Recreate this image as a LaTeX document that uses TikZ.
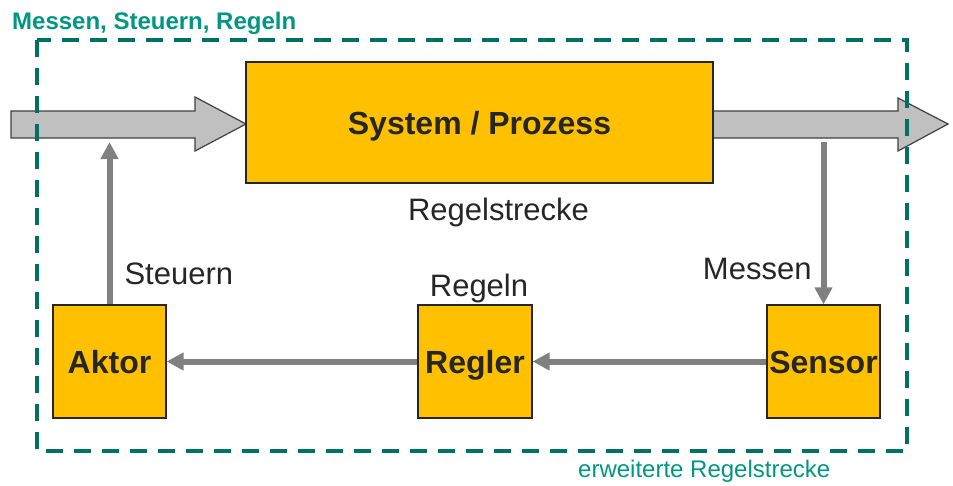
\documentclass[tikz,border=0pt]{standalone}
\usepackage{fontspec}
\setmainfont{Liberation Sans}
\usetikzlibrary{positioning}
\usetikzlibrary{arrows.meta}
\definecolor{boxorange}{RGB}{255,192,0}
\definecolor{framegreen}{RGB}{0,112,98}
\definecolor{titlegreen}{RGB}{0,150,130}
\definecolor{signalgray}{RGB}{128,128,128}
\definecolor{flowgray}{RGB}{192,192,192}

\begin{document}
\begin{tikzpicture}
    [
    x=1pt, y=-1pt,
    every node/.style={text=black!85},
    block/.style={draw=black!85,line width=1.2pt,fill=boxorange,inner sep=0pt,
      minimum width=113pt,minimum height=113pt,text height=23pt,text depth=0pt,
      font=\bfseries\fontsize{32}{36}\selectfont},
    lab/.style={inner sep=0pt,font=\fontsize{31}{36}\selectfont},
    flow/.style={draw=black!75,line width=1.2pt,fill=flowgray},
    signal/.style={draw=signalgray,line width=6pt,-{Triangle[length=17pt,width=17pt]}}
    ]
    \useasboundingbox (0,0) rectangle (953,485);

    \draw [flow] (11,111) -- (195,111) -- (195,97) -- (246,124) -- (195,151) -- (195,138) -- (11,138) -- cycle;
    \draw [flow] (713,111) -- (898,111) -- (898,98) -- (948,124) -- (898,151) -- (898,138) -- (713,138) -- cycle;

    \node (sys) at (479.5,122.5) [block, minimum width=467pt, minimum height=121pt] {System / Prozess};
    \node (akt) at (109.5,361.5) [block] {Aktor};
    \node (reg) at (475,361.5) [block, minimum width=114pt] {Regler};
    \node (sen) at (823.5,361.5) [block] {Sensor};

    \node (strecke) [lab, below=14pt of sys, xshift=19pt] {Regelstrecke};
    \node (regeln) [lab, above=1pt of reg, xshift=4pt] {Regeln};

    \coordinate (ctl) at (109.5,142);
    \coordinate (msr) at (823.5,142);
    \draw [signal] (akt) to node [lab, right=12pt, pos=0.19] {Steuern} (ctl);
    \draw [signal] (msr) to node [lab, left=9pt, pos=0.78] {Messen} (sen);
    \draw [signal] (sen) to (reg);
    \draw [signal] (reg) to (akt);

    \draw [framegreen, line width=4pt, dash pattern=on 17pt off 11pt] (37,40) rectangle (907,451);
    \node (title) at (12,29) [anchor=base west, inner sep=0pt, text=titlegreen,
      font=\bfseries\fontsize{24}{28}\selectfont] {Messen, Steuern, Regeln};
    \node (ext) at (578,477) [anchor=base west, inner sep=0pt, text=titlegreen,
      font=\fontsize{24}{28}\selectfont] {erweiterte Regelstrecke};
  \end{tikzpicture}
\end{document}
